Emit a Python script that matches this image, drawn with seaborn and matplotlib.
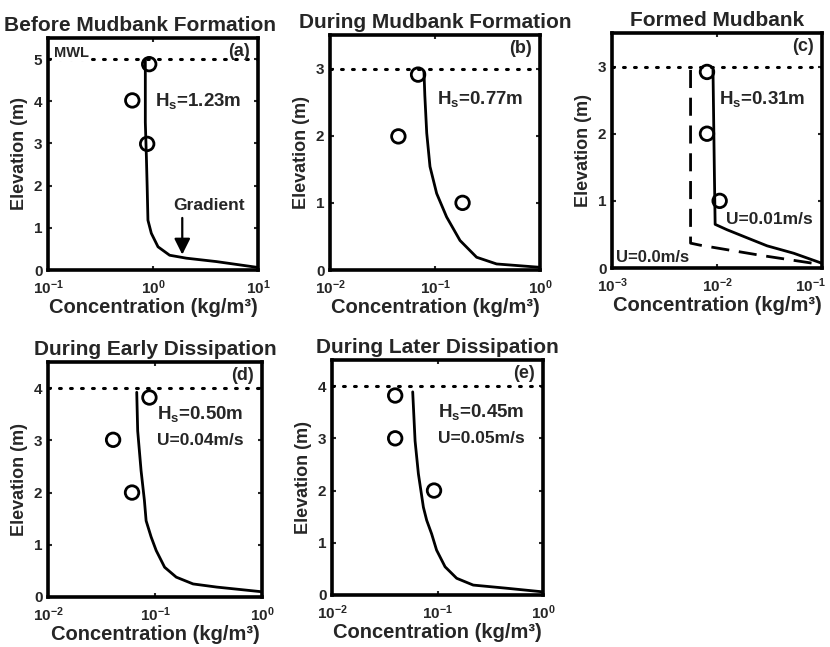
import numpy as np
import pandas as pd
import matplotlib
matplotlib.use("Agg")
import matplotlib.pyplot as plt
import matplotlib.transforms as mtransforms
import seaborn as sns
from matplotlib.ticker import LogLocator, NullLocator, FixedLocator, LogFormatterSciNotation

sns.set_style("ticks")
plt.rcParams['font.family'] = ['Liberation Sans', 'DejaVu Sans']
plt.rcParams['font.weight'] = 'bold'
plt.rcParams['axes.labelweight'] = 'bold'
plt.rcParams['axes.titleweight'] = 'bold'
plt.rcParams['mathtext.default'] = 'regular'

# ---------------- data ----------------
titles = ["Before Mudbank Formation", "During Mudbank Formation", "Formed Mudbank",
          "During Early Dissipation", "During Later Dissipation"]
panel_tags = ["(a)", "(b)", "(c)", "(d)", "(e)"]
mwl_levels = [5, 3, 3, 4, 4]

a_model_conc = [0.845, 0.845, 0.865, 0.88, 0.895, 0.964, 1.116, 1.44, 2.08, 4.0, 10.0]
a_model_elev = [4.96, 3.5, 2.68, 1.97, 1.18, 0.87, 0.55, 0.35, 0.28, 0.20, 0.06]
a_obs_conc = [0.92, 0.635, 0.88]
a_obs_elev = [4.88, 4.02, 2.99]

b_model_conc = [0.0785, 0.080, 0.0834, 0.0896, 0.1037, 0.129, 0.173, 0.249, 0.386, 1.0]
b_model_elev = [2.96, 2.6, 2.04, 1.54, 1.14, 0.79, 0.44, 0.19, 0.09, 0.04]
b_obs_conc = [0.069, 0.0448, 0.183]
b_obs_elev = [2.91, 1.99, 1.0]

c_model_conc = [0.00916, 0.00944, 0.0096, 0.01245, 0.0193, 0.030, 0.0537, 0.1]
c_model_elev = [2.95, 1.42, 0.65, 0.57, 0.45, 0.33, 0.22, 0.07]
c_still_conc = [0.0056, 0.0056, 0.0069, 0.0257, 0.1]
c_still_elev = [2.95, 0.37, 0.34, 0.19, 0.05]
c_obs_conc = [0.00803, 0.00803, 0.0106]
c_obs_elev = [2.92, 2.0, 1.0]

d_model_conc = [0.0675, 0.0689, 0.0741, 0.0796, 0.0826, 0.092, 0.1026, 0.123, 0.158, 0.227, 0.377, 1.0]
d_model_elev = [3.92, 3.18, 2.42, 1.85, 1.46, 1.15, 0.89, 0.57, 0.38, 0.25, 0.19, 0.1]
d_obs_conc = [0.0887, 0.0406, 0.061]
d_obs_elev = [3.82, 3.01, 2.0]

e_model_conc = [0.0582, 0.0613, 0.0659, 0.0735, 0.079, 0.088, 0.098, 0.118, 0.152, 0.218, 0.45, 1.0]
e_model_elev = [3.89, 2.95, 2.32, 1.68, 1.43, 1.17, 0.86, 0.54, 0.32, 0.19, 0.13, 0.06]
e_obs_conc = [0.0397, 0.0397, 0.0927]
e_obs_elev = [3.82, 3.0, 2.0]

xlims = [(0.1, 10), (0.01, 1), (0.001, 0.1), (0.01, 1), (0.01, 1)]
ylims = [(0, 5.5), (0, 3.5), (0, 3.5), (0, 4.5), (0, 4.5)]
yticks = [[0, 1, 2, 3, 4, 5], [0, 1, 2, 3], [0, 1, 2, 3], [0, 1, 2, 3, 4], [0, 1, 2, 3, 4]]

models = [(a_model_conc, a_model_elev), (b_model_conc, b_model_elev), (c_model_conc, c_model_elev),
          (d_model_conc, d_model_elev), (e_model_conc, e_model_elev)]
obs = [(a_obs_conc, a_obs_elev), (b_obs_conc, b_obs_elev), (c_obs_conc, c_obs_elev),
       (d_obs_conc, d_obs_elev), (e_obs_conc, e_obs_elev)]

# ---------------- layout ----------------
W, H = 830, 647
fig = plt.figure(figsize=(W / 100, H / 100), dpi=100)
boxes_px = [(48, 38, 258, 270), (330, 35, 540, 270), (612, 33, 822, 268),
            (48, 362, 262, 597), (332, 360, 543, 595)]
title_x = [0.44, 0.5, 0.5, 0.5, 0.5]
axes = []
for (l, t, r, b) in boxes_px:
    axes.append(fig.add_axes([l / W, 1 - b / H, (r - l) / W, (b - t) / H]))

for i, ax in enumerate(axes):
    ax.set_xscale('log')
    x0, x1 = xlims[i]
    # MWL dotted line
    mwl = pd.DataFrame({"conc": [x0, x1], "elev": [mwl_levels[i]] * 2})
    sns.lineplot(data=mwl, x="conc", y="elev", ax=ax, color="black", lw=2.2,
                 linestyle=(0, (0.6, 3.0)), dash_capstyle="round", estimator=None, sort=False)
    # model profile
    mc, me = models[i]
    dfm = pd.DataFrame({"conc": mc, "elev": me})
    sns.lineplot(data=dfm, x="conc", y="elev", ax=ax, color="black", lw=2.0,
                 estimator=None, sort=False)
    if i == 2:
        dfs = pd.DataFrame({"conc": c_still_conc, "elev": c_still_elev})
        sns.lineplot(data=dfs, x="conc", y="elev", ax=ax, color="black", lw=2.0,
                     linestyle=(0, (6.5, 3.5)), estimator=None, sort=False)
    oc, oe = obs[i]
    dfo = pd.DataFrame({"conc": oc, "elev": oe})
    sns.scatterplot(data=dfo, x="conc", y="elev", ax=ax, marker="o", s=95,
                    facecolor="none", edgecolor="black", linewidth=2.0, zorder=5)

    ax.set_xlim(x0, x1)
    ax.set_ylim(*ylims[i])
    ax.yaxis.set_major_locator(FixedLocator(yticks[i]))
    ax.xaxis.set_major_locator(LogLocator(base=10, numticks=10))
    ax.xaxis.set_minor_locator(NullLocator())
    ax.xaxis.set_major_formatter(LogFormatterSciNotation())
    ax.tick_params(axis='both', which='major', direction='in', length=3, width=1.5,
                   top=True, right=True, labelsize=11)
    ax.tick_params(axis='x', pad=6)
    ax.tick_params(axis='y', pad=4)
    for sp in ax.spines.values():
        sp.set_linewidth(2.6)
        sp.set_color("black")
    ax.set_xlabel("Concentration (kg/m³)", fontsize=14.5, labelpad=1)
    ax.set_ylabel("Elevation (m)", fontsize=13, labelpad=4)
    ax.set_title(titles[i], fontsize=15, pad=5, x=title_x[i])
    ax.text(0.96, 1.0 - 0.02, panel_tags[i], transform=ax.transAxes, ha="right", va="top",
            fontsize=13)
    ax.grid(False)

# annotations (positions in data coordinates)
axes[0].text(0.115, 5.15, "MWL", fontsize=10.5, va="center", ha="left",
             bbox=dict(facecolor="white", edgecolor="none", pad=1))
axes[0].text(1.05, 4.0, r"H$_{\mathdefault{s}}$=1.23m", fontsize=13.5, va="center", ha="left")
axes[0].text(3.45, 1.53, "Gradient", fontsize=12.5, va="center", ha="center")
axes[0].annotate("", xy=(1.9, 0.3), xytext=(1.9, 1.3),
                 arrowprops=dict(arrowstyle="-|>", color="black", lw=1.6, mutation_scale=24))
axes[1].text(0.105, 2.54, r"H$_{\mathdefault{s}}$=0.77m", fontsize=13.5, va="center", ha="left")
axes[2].text(0.0105, 2.52, r"H$_{\mathdefault{s}}$=0.31m", fontsize=13.5, va="center", ha="left")
axes[2].text(0.0123, 0.72, "U=0.01m/s", fontsize=12.5, va="center", ha="left")
axes[2].text(0.00108, 0.16, "U=0.0m/s", fontsize=12, va="center", ha="left")
axes[3].text(0.104, 3.5, r"H$_{\mathdefault{s}}$=0.50m", fontsize=13.5, va="center", ha="left")
axes[3].text(0.104, 3.0, "U=0.04m/s", fontsize=12.5, va="center", ha="left")
axes[4].text(0.1, 3.5, r"H$_{\mathdefault{s}}$=0.45m", fontsize=13.5, va="center", ha="left")
axes[4].text(0.1, 3.0, "U=0.05m/s", fontsize=12.5, va="center", ha="left")

for ax in axes:
    leg = ax.get_legend()
    if leg:
        leg.remove()

# keep the right-most tick label of panel (c) inside the figure
fig.canvas.draw()
for tick in axes[2].xaxis.get_major_ticks():
    if np.isclose(tick.get_loc(), 0.1):
        tick.label1.set_horizontalalignment("right")
        tick.label1.set_transform(tick.label1.get_transform() +
                                  mtransforms.ScaledTranslation(3 / 72, 0, fig.dpi_scale_trans))

fig.savefig("out.png", dpi=100)
